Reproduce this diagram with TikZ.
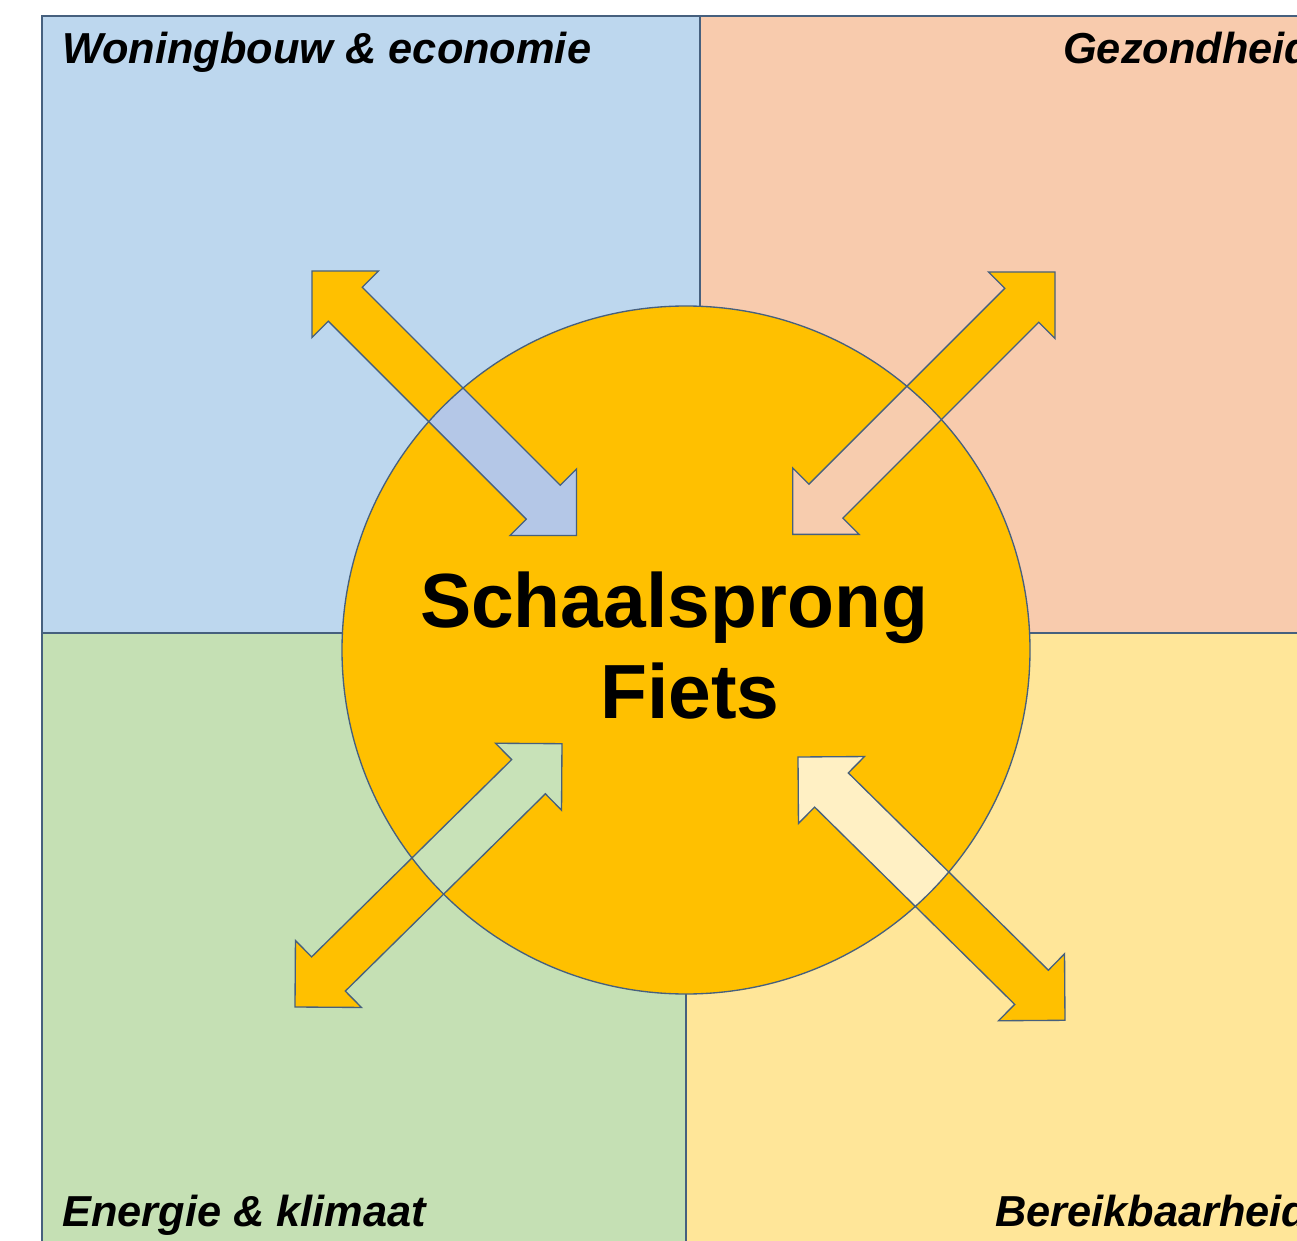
\documentclass[tikz,border=0pt]{standalone}
\usepackage{fontspec}
\setmainfont{Liberation Sans}
\definecolor{qblue}{HTML}{BDD7EE}
\definecolor{qpeach}{HTML}{F8CBAD}
\definecolor{qgreen}{HTML}{C5E0B4}
\definecolor{qyellow}{HTML}{FFE699}
\definecolor{gold}{HTML}{FFC000}
\definecolor{edgecol}{HTML}{46607E}
\definecolor{iblue}{HTML}{B4C7E7}
\definecolor{ipeach}{HTML}{F7CCAE}
\definecolor{igreen}{HTML}{C8E2B8}
\definecolor{iyellow}{HTML}{FFF0C4}
\newcommand\twowaypath[1]{(0,0) -- (47,47) -- (47,24) -- ({#1-47},24) -- ({#1-47},47) -- (#1,0) -- ({#1-47},-47) -- ({#1-47},-24) -- (47,-24) -- (47,-47) -- cycle}
\tikzset{
  frameline/.style={draw=edgecol, line width=1.4pt},
  outline/.style={draw=edgecol, line width=1pt, line join=miter},
  cornerlabel/.style={inner sep=0pt, font=\fontsize{32.5}{38}\selectfont\bfseries\itshape},
  centerlabel/.style={inner sep=0pt, anchor=base, font=\fontsize{57.6}{66}\selectfont\bfseries},
}
\begin{document}
\begin{tikzpicture}[x=0.75pt,y=0.75pt]
\useasboundingbox (0,0) rectangle (1297,-1241);
\clip (0,0) rectangle (1297,-1241);
\fill[white] (0,0) rectangle (1297,-1241);
% quadrants
\fill[qblue] (42,-16) rectangle (700,-633);
\fill[qpeach] (700,-16) rectangle (1320,-633);
\fill[qgreen] (42,-633) rectangle (686,-1260);
\fill[qyellow] (686,-633) rectangle (1320,-1260);
\draw[frameline] (1320,-16) -- (42,-16) -- (42,-1260);
\draw[frameline] (700,-16) -- (700,-633);
\draw[frameline] (42,-633) -- (1320,-633);
\draw[frameline] (686,-633) -- (686,-1260);
% hub circle
\coordinate (hub) at (686,-650);
\fill[gold] (hub) circle[radius=344];
% arrow tips
\coordinate (tl) at (312,-271);
\coordinate (tr) at (1055,-272);
\coordinate (bl) at (295,-1007);
\coordinate (br) at (798,-757);
% arrow fills
\begin{scope}[shift={(tl)}, rotate=-45] \fill[gold] \twowaypath{374}; \end{scope}
\begin{scope}[shift={(tr)}, rotate=-135] \fill[gold] \twowaypath{371}; \end{scope}
\begin{scope}[shift={(bl)}, rotate=44.6] \fill[gold] \twowaypath{375}; \end{scope}
\begin{scope}[shift={(br)}, rotate=-44.6] \fill[gold] \twowaypath{375}; \end{scope}
% parts of arrows inside the circle
\begin{scope}
  \clip (hub) circle[radius=344];
  \begin{scope}[shift={(tl)}, rotate=-45] \fill[iblue] \twowaypath{374}; \end{scope}
  \begin{scope}[shift={(tr)}, rotate=-135] \fill[ipeach] \twowaypath{371}; \end{scope}
  \begin{scope}[shift={(bl)}, rotate=44.6] \fill[igreen] \twowaypath{375}; \end{scope}
  \begin{scope}[shift={(br)}, rotate=-44.6] \fill[iyellow] \twowaypath{375}; \end{scope}
\end{scope}
% outlines
\draw[outline] (hub) circle[radius=344];
\begin{scope}[shift={(tl)}, rotate=-45] \draw[outline] \twowaypath{374}; \end{scope}
\begin{scope}[shift={(tr)}, rotate=-135] \draw[outline] \twowaypath{371}; \end{scope}
\begin{scope}[shift={(bl)}, rotate=44.6] \draw[outline] \twowaypath{375}; \end{scope}
\begin{scope}[shift={(br)}, rotate=-44.6] \draw[outline] \twowaypath{375}; \end{scope}
% texts
\node[cornerlabel, anchor=base west] (woning) at (62,-64) {Woningbouw \& economie};
\node[cornerlabel, anchor=base west] (gezond) at (1063,-64) {Gezondheid};
\node[cornerlabel, anchor=base west] (energie) at (62,-1226) {Energie \& klimaat};
\node[cornerlabel, anchor=base west] (bereik) at (995,-1226) {Bereikbaarheid};
\node[centerlabel] (schaal) at (674,-627) {Schaalsprong};
\node[centerlabel] (fiets) at (690,-718) {Fiets};
\end{tikzpicture}
\end{document}
